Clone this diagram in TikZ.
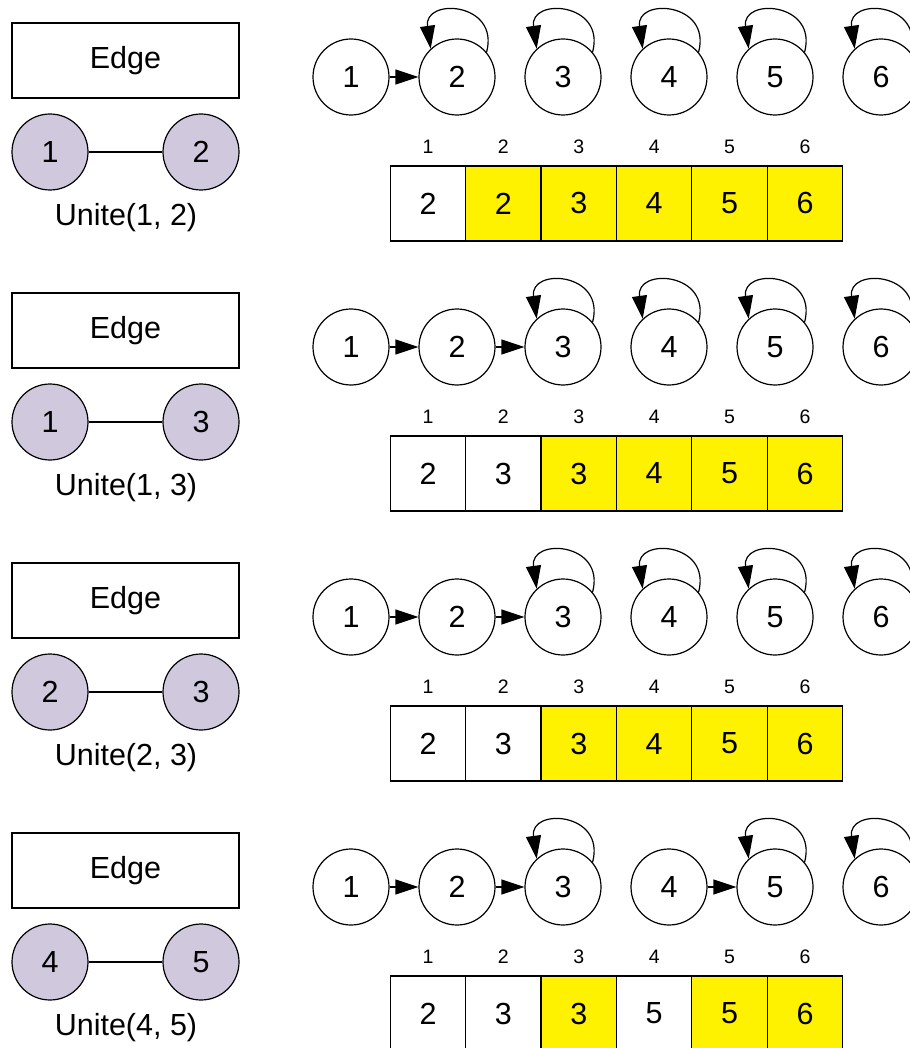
\documentclass[tikz,border=0pt]{standalone}
\usepackage{fontspec}
\setmainfont{Liberation Sans}
\usetikzlibrary{arrows.meta}
\definecolor{setpurple}{RGB}{208,200,221}
\begin{document}
\begin{tikzpicture}[x=1pt,y=1pt,line width=1.2pt,
  every node/.style={font=\fontsize{30.5}{34}\selectfont},
  vert/.style={circle,draw,minimum size=76pt,inner sep=0pt},
  uvert/.style={vert,fill=setpurple},
  cell/.style={draw,minimum width=75.5pt,minimum height=75pt,inner sep=0pt},
  idx/.style={font=\fontsize{19.5}{22}\selectfont},
  edgebox/.style={draw,minimum width=227pt,minimum height=75pt},
  tip/.style={-{Triangle[length=23pt,width=15pt]}}]
\useasboundingbox (0,0) rectangle (909,-1048);
\foreach \r/\a/\b/\pp in {0/1/2/{2,2,3,4,5,6},1/1/3/{2,3,3,4,5,6},
    2/2/3/{2,3,3,4,5,6},3/4/5/{2,3,3,5,5,6}}{
  \begin{scope}[yshift={-270pt*\r}]
  % the edge being united
  \node[edgebox] (e\r) at (125.5,-60.5) {Edge};
  \node[uvert] (ua\r) at (50,-152) {\a};
  \node[uvert] (ub\r) at (201,-152) {\b};
  \draw (ua\r) -- (ub\r);
  \node (l\r) at (126,-218) {Unite(\a, \b)};
  % forest and parent array
  \foreach \i in {1,...,6}{
    \node[vert] (v\r-\i) at ({351+106*(\i-1)},-77) {\i};
    \node[idx] (n\r-\i) at ({428+75.4*(\i-1)},-147) {\i};
  }
  \foreach \p [count=\i] in \pp{
    \ifnum\p=\i \def\fc{yellow}\else\def\fc{white}\fi
    \node[cell,fill=\fc] (c\r-\i) at ({428+75.4*(\i-1)},-203.5) {\p};
    \ifnum\p=\i
      \draw[tip] (v\r-\i.40) to[out=75,in=98,distance=52pt] (v\r-\i.133);
    \else
      \draw[tip] (v\r-\i) -- (v\r-\p);
    \fi
  }
  \end{scope}
}
\end{tikzpicture}
\end{document}
